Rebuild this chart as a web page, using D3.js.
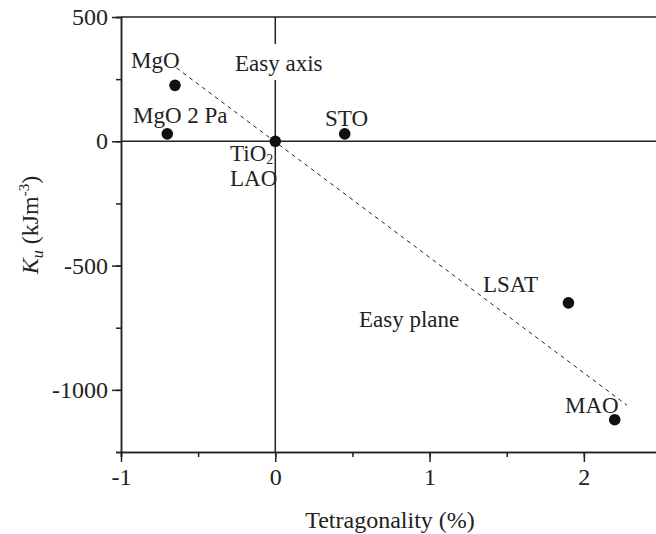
<!DOCTYPE html>
<html>
<head>
<meta charset="utf-8">
<script src="https://cdn.jsdelivr.net/npm/d3@7"></script>
<style>
  body { margin: 0; background: #fff; }
  svg { display: block; }
  svg text { font-family: "Liberation Serif", "DejaVu Serif", "Times New Roman", Times, serif; }
  .axis path, .axis line { stroke: #222; stroke-width: 1.5; }
  .axis text { font-size: 24px; fill: #222; }
  .lbl { font-size: 23px; fill: #222; }
</style>
</head>
<body>
<svg width="656" height="534"></svg>
<script>
// substrate points: tetragonality (%) vs Ku (kJ/m^3)
const names = ["MgO", "MgO 2 Pa", "TiO2/LAO", "STO", "LSAT", "MAO"];
const tetra = [-0.65, -0.70, 0, 0.45, 1.90, 2.20];
const ku = [225, 30, 0, 30, -650, -1120];

// dashed guide line
const fitX = [-0.64, 2.28];
const fitY = [295, -1062];

const xTicks = [-1, 0, 1, 2];
const yTicks = [500, 0, -500, -1000];

const svg = d3.select("svg");
const plotL = 121, plotT = 17, plotR = 661, plotB = 452;

const x = d3.scaleLinear().domain([-1, 2.5]).range([plotL, plotR]);
const y = d3.scaleLinear().domain([-1250, 500]).range([plotB, plotT]);

// top frame line
svg.append("line")
    .attr("x1", plotL).attr("x2", plotR)
    .attr("y1", y(500)).attr("y2", y(500))
    .attr("stroke", "#222").attr("stroke-width", 1.5);

// zero lines
svg.append("line")
    .attr("x1", plotL).attr("x2", plotR)
    .attr("y1", y(0)).attr("y2", y(0))
    .attr("stroke", "#222").attr("stroke-width", 1.5);
svg.append("line")
    .attr("x1", x(0)).attr("x2", x(0))
    .attr("y1", y(500)).attr("y2", y(-1250))
    .attr("stroke", "#222").attr("stroke-width", 1.5);

// minor ticks
const xAxisMinor = d3.axisBottom(x).tickValues(d3.range(-1, 2.51, 0.5)).tickSize(5).tickFormat("");
svg.append("g").attr("class", "axis").attr("transform", `translate(0,${plotB})`).call(xAxisMinor);
const yAxisMinor = d3.axisLeft(y).tickValues(d3.range(-1250, 501, 250)).tickSize(5).tickFormat("");
svg.append("g").attr("class", "axis").attr("transform", `translate(${plotL},0)`).call(yAxisMinor);

// major ticks
svg.append("g").attr("class", "axis")
    .attr("transform", `translate(0,${plotB})`)
    .call(d3.axisBottom(x).tickValues(xTicks).tickSize(10).tickSizeOuter(0).tickPadding(6).tickFormat(d3.format("d")));
svg.append("g").attr("class", "axis")
    .attr("transform", `translate(${plotL},0)`)
    .call(d3.axisLeft(y).tickValues(yTicks).tickSize(9).tickSizeOuter(0).tickPadding(4).tickFormat(d3.format("d")));

svg.selectAll(".axis text").text(function() { return this.textContent.replace("−", "-"); });

// dashed line
svg.append("line")
    .attr("x1", x(fitX[0])).attr("y1", y(fitY[0]))
    .attr("x2", x(fitX[1])).attr("y2", y(fitY[1]))
    .attr("stroke", "#222").attr("stroke-width", 1)
    .attr("stroke-dasharray", "4,4");

// "Easy axis" label with white knockout
svg.append("rect").attr("x", 232).attr("y", 44).attr("width", 100).attr("height", 36).attr("fill", "#fff");
svg.append("text").attr("class", "lbl").attr("x", 235).attr("y", 71).text("Easy axis");
svg.append("text").attr("class", "lbl").attr("x", 359).attr("y", 327).text("Easy plane");

// points
svg.selectAll("circle.pt")
    .data(tetra)
    .enter()
    .append("circle")
    .attr("class", "pt")
    .attr("cx", d => x(d))
    .attr("cy", (d, i) => y(ku[i]))
    .attr("r", 5.8)
    .attr("fill", "#111");

// point labels
svg.append("text").attr("class", "lbl").attr("x", 131).attr("y", 68).text("MgO");
svg.append("text").attr("class", "lbl").attr("x", 133).attr("y", 123).text("MgO 2 Pa");
svg.append("text").attr("class", "lbl").attr("x", 325).attr("y", 126).text("STO");
const tio = svg.append("text").attr("class", "lbl").attr("x", 230).attr("y", 161);
tio.append("tspan").text("TiO");
tio.append("tspan").attr("dy", 3).attr("font-size", 14).text("2");
svg.append("text").attr("class", "lbl").attr("x", 230).attr("y", 186).text("LAO");
svg.append("text").attr("class", "lbl").attr("x", 483).attr("y", 292).text("LSAT");
svg.append("text").attr("class", "lbl").attr("x", 565).attr("y", 413).text("MAO");

// axis titles
svg.append("text").attr("class", "lbl")
    .attr("x", 390).attr("y", 528)
    .attr("text-anchor", "middle")
    .style("font-size", "24px")
    .text("Tetragonality (%)");

const yl = svg.append("text").attr("class", "lbl")
    .attr("transform", "translate(38,225) rotate(-90)")
    .attr("text-anchor", "middle")
    .style("font-size", "24px");
yl.append("tspan").attr("font-style", "italic").text("K");
yl.append("tspan").attr("font-style", "italic").attr("font-size", 16).attr("dy", 5).text("u");
yl.append("tspan").attr("dy", -5).text(" (kJm");
yl.append("tspan").attr("font-size", 15).attr("dy", -9).text("-3");
yl.append("tspan").attr("dy", 9).text(")");
</script>
</body>
</html>
